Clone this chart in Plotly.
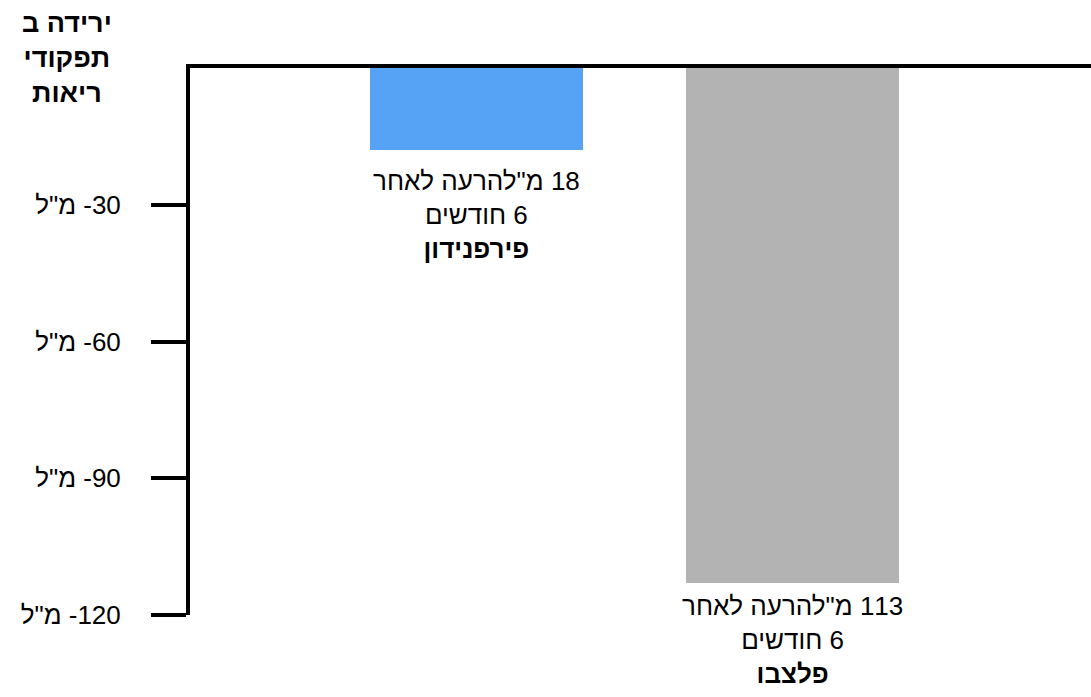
import plotly.graph_objects as go

# Data: decline in lung function (ml) after 6 months
groups = ["פירפנידון", "פלצבו"]
decline_ml = [-18, -113]
bar_colors = ["#56A3F5", "#B3B3B3"]
tick_values = [-30, -60, -90, -120]
label_shifts = [-14, -6]

RLE, PDF = "\u202B", "\u202C"


def rtl(s):
    return RLE + s + PDF


tick_text = [rtl(f'{abs(v)}- מ"ל') for v in tick_values]

FONT = "Liberation Sans, Arial, sans-serif"

fig = go.Figure()
fig.add_trace(go.Bar(
    x=groups,
    y=decline_ml,
    marker=dict(color=bar_colors, line=dict(width=0)),
    width=0.674,
    hoverinfo="skip",
))

# labels under each bar, built from the bar values
for g, v, sh in zip(groups, decline_ml, label_shifts):
    text = "<br>".join([
        rtl(f'{abs(v)} מ"להרעה לאחר'),
        rtl("6 חודשים"),
        "<b>" + rtl(g) + "</b>",
    ])
    fig.add_annotation(
        x=g, y=v, xref="x", yref="y",
        text=text, showarrow=False,
        yanchor="top", xanchor="center", yshift=sh,
        font=dict(family=FONT, size=26, color="#000000"),
        align="center",
    )

# y-axis title at the top left
fig.add_annotation(
    xref="paper", yref="paper",
    x=-0.1365, y=1.114,
    text="<b>" + "<br>".join([rtl("ירידה ב"), rtl("תפקודי"), rtl("ריאות")]) + "</b>",
    showarrow=False, xanchor="center", yanchor="top", align="center",
    font=dict(family=FONT, size=27, color="#000000"),
)

fig.update_layout(
    width=1091, height=697,
    margin=dict(l=190, r=0, t=68, b=82, pad=0),
    paper_bgcolor="#FFFFFF", plot_bgcolor="#FFFFFF",
    showlegend=False,
    bargap=0,
    xaxis=dict(
        type="category", categoryorder="array", categoryarray=groups,
        range=[-0.908, 1.943],
        side="top", showline=True, linecolor="#000000", linewidth=4,
        showticklabels=False, ticks="", showgrid=False, zeroline=False,
    ),
    yaxis=dict(
        range=[-120, 0],
        tickvals=tick_values, ticktext=tick_text,
        ticks="outside", ticklen=35, tickwidth=4, tickcolor="#000000",
        ticklabelstandoff=25,
        showline=True, linecolor="#000000", linewidth=4,
        showgrid=False, zeroline=False,
        tickfont=dict(family=FONT, size=26, color="#000000"),
    ),
)

fig.write_html("out.html")
